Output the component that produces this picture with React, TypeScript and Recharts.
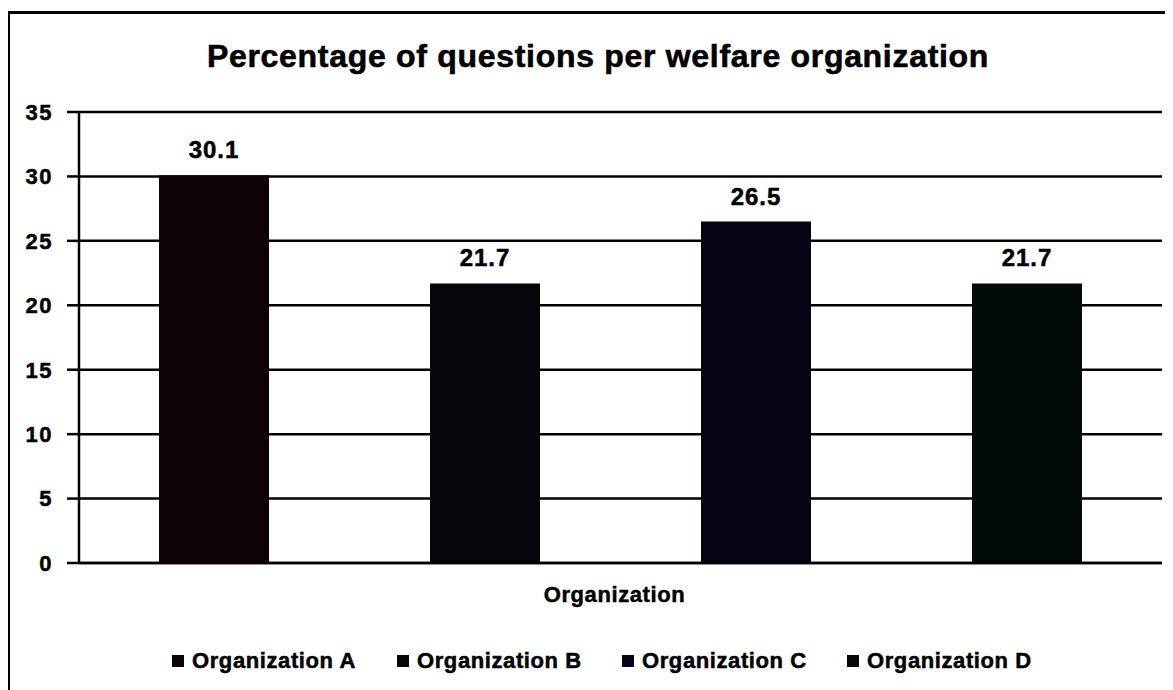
import React from "react";
import { BarChart, Bar, XAxis, YAxis, CartesianGrid, LabelList } from "recharts";

const title = "Percentage of questions per welfare organization";
const categories = ["Organization"];
const seriesNames = ["Organization A", "Organization B", "Organization C", "Organization D"];
const seriesKeys = ["A", "B", "C", "D"];
const seriesValues = [30.1, 21.7, 26.5, 21.7];
const seriesColors = ["#0c0208", "#060509", "#060414", "#030b0a"];
const yTicks = [0, 5, 10, 15, 20, 25, 30, 35];

const data = categories.map((name) => {
  const row: Record<string, string | number> = { name };
  seriesKeys.forEach((k, i) => {
    row[k] = seriesValues[i];
  });
  return row;
});

const FONT = '"Liberation Sans", Arial, sans-serif';

export default function App() {
  return (
    <div style={{ marginTop: 3, width: 1165, height: 679, overflow: "hidden", position: "relative" }}>
      <div
        style={{
          borderLeft: "2px solid #000",
          borderTop: "3px solid #000",
          width: 1200,
          height: 700,
          position: "relative",
          background: "#fff",
        }}
      >
        <div
          style={{
            position: "absolute",
            left: 88,
            top: 26,
            width: 1000,
            textAlign: "center",
            fontFamily: FONT,
            fontWeight: "bold",
            fontSize: 32,
            lineHeight: "32px",
            letterSpacing: 0.7,
            color: "#000",
            WebkitTextStroke: "0.6px #000",
          }}
        >
          {title}
        </div>
        <BarChart
          width={1163}
          height={664}
          data={data}
          margin={{ top: 98, right: 11, left: 0, bottom: 55 }}
          barCategoryGap={79}
          barGap={161}
        >
          <CartesianGrid horizontal vertical={false} stroke="#000" strokeWidth={2.5} />
          <XAxis
            dataKey="name"
            height={60}
            axisLine={{ stroke: "#000", strokeWidth: 2.5 }}
            tickLine={false}
            tickSize={0}
            tickMargin={23}
            tick={{ fill: "#000", stroke: "#000", strokeWidth: 0.5, fontSize: 22, fontWeight: "bold", fontFamily: FONT, letterSpacing: 0.6, dx: -6 }}
          />
          <YAxis
            width={69}
            domain={[0, 35]}
            ticks={yTicks}
            interval={0}
            axisLine={{ stroke: "#000", strokeWidth: 2.5 }}
            tickLine={{ stroke: "#000", strokeWidth: 2.5 }}
            tickSize={12}
            tickMargin={14}
            tick={{ fill: "#000", stroke: "#000", strokeWidth: 0.5, fontSize: 22, fontWeight: "bold", fontFamily: FONT, letterSpacing: 1.5 }}
          />
          {seriesKeys.map((k, i) => (
            <Bar key={k} dataKey={k} name={seriesNames[i]} fill={seriesColors[i]} barSize={110} isAnimationActive={false}>
              <LabelList
                dataKey={k}
                position="top"
                offset={17}
                style={{ fill: "#000", stroke: "#000", strokeWidth: 0.5, fontSize: 24, fontWeight: "bold", fontFamily: FONT, letterSpacing: 1 }}
              />
            </Bar>
          ))}
        </BarChart>
        <div style={{ position: "absolute", left: 162, top: 636, height: 22, display: "flex" }}>
          {seriesNames.map((n, i) => (
            <div key={n} style={{ width: 225, display: "flex", alignItems: "center" }}>
              <div style={{ width: 12, height: 12, background: seriesColors[i], marginRight: 8 }} />
              <span
                style={{
                  fontFamily: FONT,
                  fontWeight: "bold",
                  fontSize: 22,
                  lineHeight: "22px",
                  letterSpacing: 0.6,
                  color: "#000",
                  whiteSpace: "nowrap",
                  WebkitTextStroke: "0.5px #000",
                }}
              >
                {n}
              </span>
            </div>
          ))}
        </div>
      </div>
    </div>
  );
}
